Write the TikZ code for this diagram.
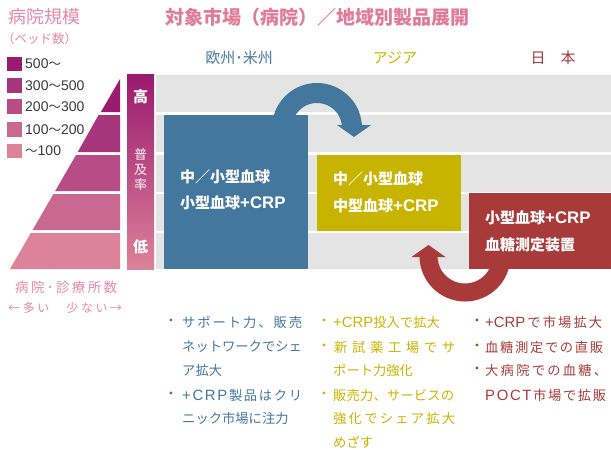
\documentclass[tikz,border=0pt]{standalone}
\usepackage{fontspec}
\setmainfont{Noto Sans CJK JP}
\newfontfamily\lat[Scale=1.12]{Liberation Sans}
\definecolor{blueC}{HTML}{44779E}
\definecolor{yelC}{HTML}{C8B400}
\definecolor{redC}{HTML}{A83A3A}
\definecolor{pinkT}{HTML}{E07B98}
\definecolor{pinkL}{HTML}{E48AA5}
\definecolor{bandG}{HTML}{E4E4E4}
\definecolor{lvA}{HTML}{9A1A6E}
\definecolor{lvB}{HTML}{A7357C}
\definecolor{lvC}{HTML}{B84C86}
\definecolor{lvD}{HTML}{C96891}
\definecolor{lvE}{HTML}{DC8299}
\definecolor{legT}{HTML}{3A3A3A}
\makeatletter
\def\spr@mark{\spr@mark}
\def\spr@first#1{{#1}\spr@rest}
\def\spr@rest#1{\def\spr@tmp{#1}\ifx\spr@tmp\spr@mark\else\hfil{#1}\expandafter\spr@rest\fi}
\newcommand\spreadto[2]{\makebox[#1][s]{\spr@first#2\spr@mark}}
\makeatother
\begin{document}
\begin{tikzpicture}[x=1pt,y=-1pt,
  txt/.style={inner sep=0pt,anchor=west},
  boxtxt/.style={txt,text=white,font=\fontsize{15}{18}\selectfont\bfseries},
  bul/.style={txt,font=\fontsize{13.3}{16}\selectfont},
  dot/.style={inner sep=0pt,font=\fontsize{13.3}{16}\selectfont},
  hdr/.style={inner sep=0pt,font=\fontsize{15}{18}\selectfont},
  leg/.style={txt,text=legT,font=\fontsize{12.5}{15}\selectfont},
  band/.style={fill=bandG,draw=none},
  bar/.style={inner sep=0pt,text=white},
]
\useasboundingbox (0,0) rectangle (611,450);

% titles
\node[inner sep=0pt,text=pinkT,font=\fontsize{19}{22}\selectfont\bfseries] (title) at (317,17) {対象市場（病院）／地域別製品展開};
\node[txt,text=pinkL,font=\fontsize{18}{20}\selectfont] (scale) at (8,17) {病院規模};
\node[txt,text=pinkL,font=\fontsize{12.5}{14}\selectfont] (beds) at (2,38.5) {（ベッド数）};

% legend
\foreach \c/\ya/\yb/\t [count=\i] in {lvA/57/71/{{\lat 500}～}, lvB/78/93/{{\lat 300}～{\lat 500}}, lvC/99/114/{{\lat 200}～{\lat 300}}, lvD/122/137/{{\lat 100}～{\lat 200}}, lvE/144/158/{～{\lat 100}}}{
  \fill[\c] (7,\ya) rectangle (22,\yb);
  \node[leg] (leg\i) at (25,{(\ya+\yb)/2}) {\t};
}

% pyramid
\fill[lvA] (120,79) -- (120,112) -- (100.9,112) -- cycle;
\fill[lvB] (98.6,115) -- (120,115) -- (120,152) -- (77.7,152) -- cycle;
\fill[lvC] (76.0,155) -- (120,155) -- (120,191) -- (55.2,191) -- cycle;
\fill[lvD] (53.4,194) -- (120,194) -- (120,230) -- (32.6,230) -- cycle;
\fill[lvE] (30.8,233) -- (120,233) -- (120,269) -- (10,269) -- cycle;

\node[txt,font=\fontsize{13.5}{16}\selectfont,text=pinkL] (hosp) at (15,287) {\spreadto{102pt}{病院･診療所数}};
\node[txt,font=\fontsize{12}{14}\selectfont,text=pinkL] (many) at (8,308) {\spreadto{114pt}{←多い　少ない→}};

% gradient bar
\shade[top color=lvA,bottom color=lvE] (127,74) rectangle (154,269);
\node[bar,font=\fontsize{15}{18}\selectfont\bfseries] (hi) at (140.5,97) {高};
\node[bar,text=white!85!pink,font=\fontsize{13}{15}\selectfont] (fu1) at (140.5,155) {普};
\node[bar,text=white!85!pink,font=\fontsize{13}{15}\selectfont] (fu2) at (140.5,170) {及};
\node[bar,text=white!85!pink,font=\fontsize{13}{15}\selectfont] (fu3) at (140.5,185) {率};
\node[bar,font=\fontsize{15}{18}\selectfont\bfseries] (lo) at (140.5,247) {低};

% gray bands
\fill[band] (156,75) rectangle (611,112);
\fill[band] (156,115) rectangle (611,152);
\fill[band] (156,155) rectangle (611,192);
\fill[band] (156,194) rectangle (611,231);
\fill[band] (156,233) rectangle (611,269);

% column headers
\node[hdr,text=blueC] (hEU) at (239,58) {欧州･米州};
\node[hdr,text=yelC] (hAS) at (395,58) {アジア};
\node[hdr,text=redC] (hJP) at (553,58) {日　本};

% boxes
\fill[blueC] (164,115) rectangle (308,269);
\fill[yelC] (317,155) rectangle (461,231);
\fill[redC] (469,193) rectangle (611,269);

\node[boxtxt] (b1) at (180,177) {中／小型血球};
\node[boxtxt] (b2) at (180,203) {小型血球{\lat +CRP}};
\node[boxtxt] (y1) at (333,179) {中／小型血球};
\node[boxtxt] (y2) at (333,206) {中型血球{\lat +CRP}};
\node[boxtxt] (r1) at (485,218) {小型血球{\lat +CRP}};
\node[boxtxt] (r2) at (485,245) {血糖測定装置};

% arrows
\draw[blueC,line width=20pt] (282,128) arc[start angle=180,end angle=0,radius=35pt];
\fill[blueC] (337,125) -- (371,125) -- (354,137) -- cycle;
\draw[redC,line width=18pt] (501.5,256) arc[start angle=0,end angle=-180,radius=36.5pt];
\fill[redC] (411.5,257) -- (445.5,257) -- (428.5,245) -- cycle;

% bullets: Europe/US
\node[dot,text=blueC] (d1) at (171,322) {・};
\node[bul,text=blueC] (e1) at (182,322) {\spreadto{120pt}{サポート力、販売}};
\node[bul,text=blueC] (e2) at (182,347) {ネットワークでシェ};
\node[bul,text=blueC] (e3) at (182,370) {ア拡大};
\node[dot,text=blueC] (d2) at (171,395) {・};
\node[bul,text=blueC] (e4) at (182,395) {\spreadto{120pt}{{\lat +}{\lat C}{\lat R}{\lat P}製品はクリ}};
\node[bul,text=blueC] (e5) at (182,418) {ニック市場に注力};

% bullets: Asia
\node[dot,text=yelC] (d3) at (324,322) {・};
\node[bul,text=yelC] (a1) at (333,322) {{\lat +CRP}投入で拡大};
\node[dot,text=yelC] (d4) at (324,347) {・};
\node[bul,text=yelC] (a2) at (334,347) {\spreadto{121pt}{新試薬工場でサ}};
\node[bul,text=yelC] (a3) at (333,370) {ポート力強化};
\node[dot,text=yelC] (d5) at (324,395) {・};
\node[bul,text=yelC] (a4) at (333,395) {\spreadto{121pt}{販売力、サービスの}};
\node[bul,text=yelC] (a5) at (333,418) {\spreadto{122pt}{強化でシェア拡大}};
\node[bul,text=yelC] (a6) at (333,442) {めざす};

% bullets: Japan
\node[dot,text=redC] (d6) at (477,322) {・};
\node[bul,text=redC] (j1) at (485,322) {\spreadto{117pt}{{\lat +CRP}で市場拡大}};
\node[dot,text=redC] (d7) at (477,347) {・};
\node[bul,text=redC] (j2) at (485,347) {\spreadto{118pt}{血糖測定での直販}};
\node[dot,text=redC] (d8) at (477,370) {・};
\node[bul,text=redC] (j3) at (485,370) {\spreadto{122pt}{大病院での血糖、}};
\node[bul,text=redC] (j4) at (485,395) {\spreadto{121pt}{{\lat P}{\lat O}{\lat C}{\lat T}市場で拡販}};
\end{tikzpicture}
\end{document}
